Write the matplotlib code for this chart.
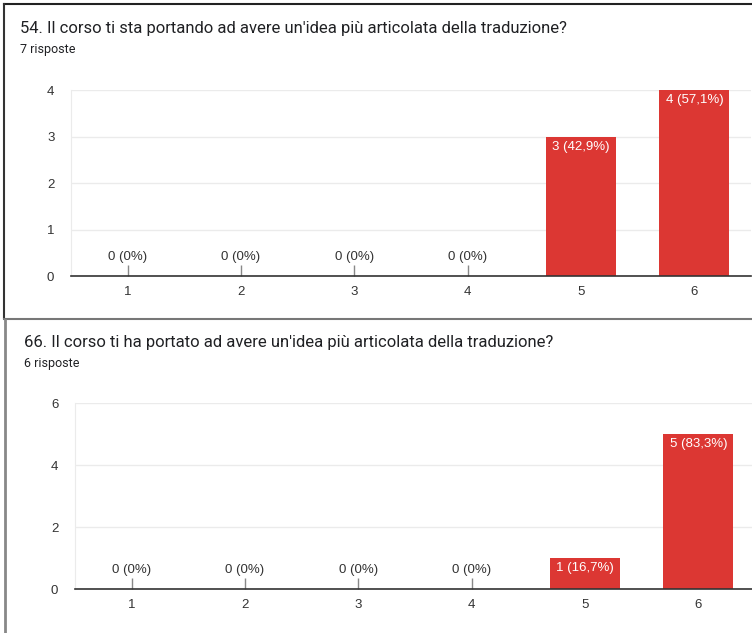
import numpy as np
import matplotlib
matplotlib.use("Agg")
import matplotlib.pyplot as plt
from matplotlib.lines import Line2D

categories = ["1", "2", "3", "4", "5", "6"]

title_54 = "54. Il corso ti sta portando ad avere un'idea più articolata della traduzione?"
answers_54 = "7 risposte"
counts_54 = [0, 0, 0, 0, 3, 4]
labels_54 = ["0 (0%)", "0 (0%)", "0 (0%)", "0 (0%)", "3 (42,9%)", "4 (57,1%)"]
yticks_54 = [0, 1, 2, 3, 4]

title_66 = "66. Il corso ti ha portato ad avere un'idea più articolata della traduzione?"
answers_66 = "6 risposte"
counts_66 = [0, 0, 0, 0, 1, 5]
labels_66 = ["0 (0%)", "0 (0%)", "0 (0%)", "0 (0%)", "1 (16,7%)", "5 (83,3%)"]
yticks_66 = [0, 2, 4, 6]

W, H = 752, 633
bar_color = "#dc3733"
grid_color = "#ebebeb"
tick_font = "Liberation Sans"

fig = plt.figure(figsize=(W / 100, H / 100), dpi=100)
fig.patch.set_facecolor("white")


def px_axes(left, top, right, bottom):
    return fig.add_axes([left / W, 1 - bottom / H, (right - left) / W, (bottom - top) / H])


def draw_chart(ax, counts, labels, yticks):
    x = np.arange(1, len(categories) + 1)
    ax.bar(x, counts, width=0.62, color=bar_color, zorder=3)
    # little stems for empty bars
    stem = [(0, 0), (0, 1)]
    for xi, c, lab in zip(x, counts, labels):
        if c == 0:
            ax.plot([xi], [0], marker=stem, markersize=16, color="#888888",
                    markeredgewidth=1, zorder=4, clip_on=False)
            ax.annotate(lab, (xi, 0), xytext=(0, 19), textcoords="offset pixels",
                        ha="center", va="center", fontsize=9.5, family=tick_font,
                        color="#333333", zorder=5)
        else:
            ax.annotate(lab, (xi, c), xytext=(0, -10), textcoords="offset pixels",
                        ha="center", va="center", fontsize=9.5, family=tick_font,
                        color="white", zorder=5)
    ax.set_xlim(0.5, len(categories) + 0.5)
    ax.set_ylim(0, max(yticks))
    ax.set_xticks(x)
    ax.set_xticklabels(categories, family=tick_font, fontsize=9.5, color="#333333")
    ax.set_yticks(yticks)
    ax.set_yticklabels([str(t) for t in yticks], family=tick_font, fontsize=9.5, color="#333333")
    ax.tick_params(axis="both", length=0)
    ax.tick_params(axis="y", pad=12)
    ax.tick_params(axis="x", pad=7)
    ax.grid(axis="y", color=grid_color, linewidth=1, zorder=0)
    for side in ["top", "right"]:
        ax.spines[side].set_visible(False)
    ax.spines["left"].set_color(grid_color)
    ax.spines["bottom"].set_color("#333333")
    ax.spines["bottom"].set_linewidth(1.2)
    ax.spines["bottom"].set_zorder(6)


ax1 = px_axes(71, 90, 751, 276)
draw_chart(ax1, counts_54, labels_54, yticks_54)
ax2 = px_axes(75, 403, 755, 589)
draw_chart(ax2, counts_66, labels_66, yticks_66)

fig.text(20 / W, 1 - 29 / H, title_54, fontsize=12, family="Roboto", color="#202124",
         va="center", ha="left")
fig.text(20 / W, 1 - 49 / H, answers_54, fontsize=9, family="Roboto", color="#202124",
         va="center", ha="left")
fig.text(24 / W, 1 - 343 / H, title_66, fontsize=12, family="Roboto", color="#202124",
         va="center", ha="left")
fig.text(24 / W, 1 - 364 / H, answers_66, fontsize=9, family="Roboto", color="#202124",
         va="center", ha="left")

# panel borders
fig.add_artist(Line2D([4 / W, 1], [1 - 4 / H, 1 - 4 / H], color="#222222", linewidth=1.5))
fig.add_artist(Line2D([4 / W, 4 / W], [1 - 4 / H, 1 - 318 / H], color="#333333", linewidth=1.5))
fig.add_artist(Line2D([4 / W, 1], [1 - 319 / H, 1 - 319 / H], color="#777777", linewidth=1.5))
fig.add_artist(Line2D([4.5 / W, 4.5 / W], [1 - 320 / H, 0], color="#888888", linewidth=2))

fig.savefig("out.png", dpi=100)
